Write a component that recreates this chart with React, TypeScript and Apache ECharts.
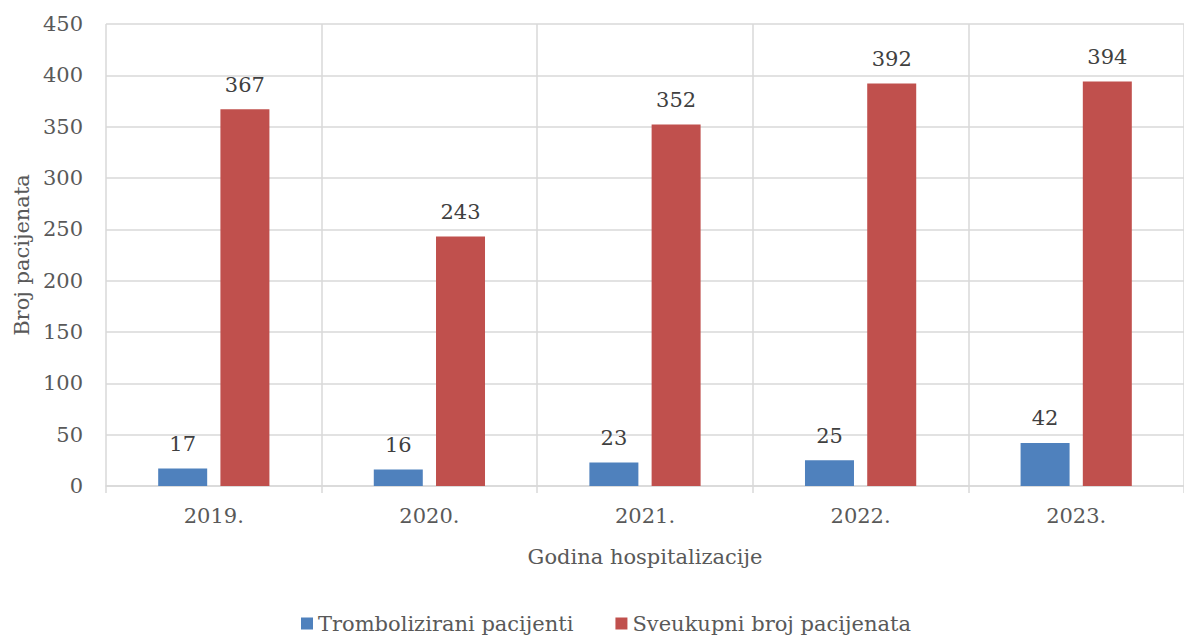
import React, { useEffect, useRef } from "react";
import * as echarts from "echarts";

const years = ["2019.", "2020.", "2021.", "2022.", "2023."];
const trombolizirani = [17, 16, 23, 25, 42];
const sveukupni = [367, 243, 352, 392, 394];
const seriesNames = ["Trombolizirani pacijenti", "Sveukupni broj pacijenata"];

const FONT = "'DejaVu Serif', serif";
const FS = 21;
const TXT = "#595959";
const GRID = "#d9d9d9";

export default function App() {
  const ref = useRef<HTMLDivElement>(null);
  useEffect(() => {
    const chart = echarts.init(ref.current!, null, { renderer: "svg" });
    const label = {
      show: true,
      position: "top" as const,
      distance: 14,
      color: "#404040",
      fontFamily: FONT,
      fontSize: FS,
    };
    chart.setOption({
      animation: false,
      backgroundColor: "#ffffff",
      textStyle: { fontFamily: FONT },
      grid: { left: 106, right: -7, top: 24, bottom: 151, containLabel: false },
      legend: {
        left: 301,
        top: 613,
        padding: 0,
        icon: "rect",
        itemWidth: 12,
        itemHeight: 12,
        itemGap: 42,
        textStyle: { color: TXT, fontFamily: FONT, fontSize: FS },
        data: seriesNames,
      },
      xAxis: {
        type: "category",
        data: years,
        name: "Godina hospitalizacije",
        nameLocation: "middle",
        nameGap: 60,
        nameTextStyle: { color: TXT, fontFamily: FONT, fontSize: FS },
        axisLine: { show: true, lineStyle: { color: GRID, width: 1.5 } },
        axisTick: { show: true, length: 7, lineStyle: { color: GRID, width: 1.5 } },
        splitLine: { show: true, lineStyle: { color: GRID, width: 1.5 } },
        axisLabel: { color: TXT, fontFamily: FONT, fontSize: FS, margin: 19 },
      },
      yAxis: {
        type: "value",
        min: 0,
        max: 450,
        interval: 50,
        name: "Broj pacijenata",
        nameLocation: "middle",
        nameGap: 74,
        nameTextStyle: { color: TXT, fontFamily: FONT, fontSize: FS },
        axisLine: { show: false },
        axisTick: { show: false },
        splitLine: { show: true, lineStyle: { color: GRID, width: 1.5 } },
        axisLabel: { color: TXT, fontFamily: FONT, fontSize: FS, margin: 23 },
      },
      series: [
        {
          name: seriesNames[0],
          type: "bar",
          data: trombolizirani,
          barWidth: 49,
          barGap: "27%",
          itemStyle: { color: "#4f81bd" },
          label,
        },
        {
          name: seriesNames[1],
          type: "bar",
          data: sveukupni,
          barWidth: 49,
          itemStyle: { color: "#c0504d" },
          label,
        },
      ],
    });
    return () => chart.dispose();
  }, []);
  return (
    <div
      ref={ref}
      style={{ position: "absolute", left: 0, top: 0, width: 1184, height: 637 }}
    />
  );
}
